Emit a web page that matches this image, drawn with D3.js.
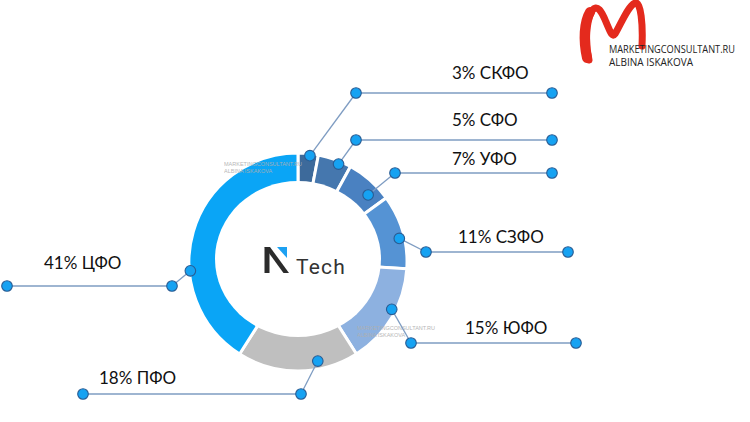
<!DOCTYPE html>
<html><head><meta charset="utf-8">
<script src="https://cdn.jsdelivr.net/npm/d3@7"></script>
<style>html,body{margin:0;padding:0;background:#fff;}svg{display:block;}</style>
</head><body>
<script>
// ---- data ----
const regions = ["СКФО","СФО","УФО","СЗФО","ЮФО","ПФО","ЦФО"];
const shares  = [3, 5, 7, 11, 15, 18, 41];
// ---- styles ----
const colors  = ["#3d6a9b","#4577ae","#4a81c1","#5593d4","#8db1e0","#bfbfbf","#0aa5f6"];
// ---- callout layout (anchor angle on ring in deg, radius, elbow, end x, label pos) ----
const callouts = [
  {ang: 6.4,  r: 107, ex: 356, ey: 93,  endX: 552, lx: 452, ly: 79},
  {ang: 22.5, r: 106, ex: 356, ey: 140, endX: 552, lx: 452, ly: 126},
  {ang: 46.3, r: 97,  ex: 395, ey: 173, endX: 552, lx: 452, ly: 165},
  {ang: 76.9, r: 104, ex: 426, ey: 252, endX: 568, lx: 458, ly: 243},
  {ang: 116.8,r: 105, ex: 411, ey: 343, endX: 576, lx: 465, ly: 334},
  {ang: 168.7,r: 101, ex: 301, ey: 394, endX: 83,  lx: 99,  ly: 384},
  {ang: 265.3,r: 108, ex: 172, ey: 286, endX: 7,   lx: 44,  ly: 269}
];

const W = 750, H = 422, cx = 298, cy = 262, R = 109;
const svg = d3.select("body").append("svg").attr("width", W).attr("height", H);

const pie = d3.pie().sort(null).value(d => d);
const arc = d3.arc().innerRadius(60).outerRadius(R);
const g = svg.append("g").attr("transform", `translate(${cx},${cy})`);
g.selectAll("path.slice").data(pie(shares)).join("path")
  .attr("class","slice")
  .attr("d", arc)
  .attr("fill", (d,i) => colors[i])
  .attr("stroke", "#fff").attr("stroke-width", 3);
// hole
svg.append("ellipse").attr("cx", cx).attr("cy", cy - 3).attr("rx", 83).attr("ry", 78).attr("fill", "#fff");

// watermarks
const wm = [[224,166],[357,330]];
wm.forEach(([x,y]) => {
  const t = svg.append("text").attr("x", x).attr("y", y)
    .attr("font-family","Liberation Sans, sans-serif").attr("font-size", 5.5)
    .attr("fill","#b0b0b0").attr("opacity",0.9);
  t.append("tspan").attr("x", x).text("MARKETINGCONSULTANT.RU");
  t.append("tspan").attr("x", x).attr("dy", 7).text("ALBINA ISKAKOVA");
});

// callouts
const toXY = (ang, r) => {
  const a = ang * Math.PI / 180;
  return [cx + r * Math.sin(a), cy - r * Math.cos(a)];
};
const lineColor = "#7e9cc2";
callouts.forEach((c, i) => {
  const [ax, ay] = toXY(c.ang, c.r);
  svg.append("line").attr("x1", ax).attr("y1", ay).attr("x2", c.ex).attr("y2", c.ey)
    .attr("stroke", lineColor).attr("stroke-width", 1.3);
  svg.append("line").attr("x1", c.ex).attr("y1", c.ey).attr("x2", c.endX).attr("y2", c.ey)
    .attr("stroke", lineColor).attr("stroke-width", 1.3);
  [[ax, ay], [c.ex, c.ey], [c.endX, c.ey]].forEach(([x, y]) => {
    svg.append("circle").attr("cx", x).attr("cy", y).attr("r", 5.3)
      .attr("fill", "#16a2f2").attr("stroke", "#2a5c93").attr("stroke-width", 1.1);
  });
  svg.append("text").attr("x", c.lx).attr("y", c.ly)
    .attr("font-family", "Lato, 'Open Sans', sans-serif").attr("font-size", 17)
    .attr("fill", "#111").text(`${shares[i]}% ${regions[i]}`);
});

// center logo "N Tech"
const lg = svg.append("g");
lg.append("rect").attr("x", 264.5).attr("y", 247).attr("width", 5).attr("height", 26).attr("fill", "#2b2b2b");
lg.append("path").attr("d", "M264.5,247 L270,247 L289,273 L283.5,273 Z").attr("fill", "#2b2b2b");
lg.append("path").attr("d", "M277,247 L287,247 L287,258 Z").attr("fill", "#1da1f2");
lg.append("text").attr("x", 296).attr("y", 274)
  .attr("font-family", "Roboto, sans-serif").attr("font-size", 21).attr("letter-spacing", 1.2)
  .attr("fill", "#333").text("Tech");

// top-right brand logo
svg.append("path")
  .attr("d", "M589,60 C585,42 586,22 592,11 C597,3 602,12 606,22 C610,31 612,38 615,34 C621,24 628,6 635,3 C641,1 643,25 642,46")
  .attr("fill", "none").attr("stroke", "#e42a1d").attr("stroke-width", 7).attr("stroke-linecap", "round").attr("stroke-linejoin","round");
svg.append("path")
  .attr("d", "M587,58 C583,40 584,22 590,12")
  .attr("fill", "none").attr("stroke", "#e42a1d").attr("stroke-width", 10).attr("stroke-linecap", "round");
const bt = svg.append("g").attr("font-family", "'Open Sans', sans-serif").attr("font-size", 10).attr("fill", "#222");
bt.append("text").attr("x", 609).attr("y", 53).attr("textLength", 126).attr("lengthAdjust", "spacingAndGlyphs").text("MARKETINGCONSULTANT.RU");
bt.append("text").attr("x", 609).attr("y", 66).attr("textLength", 84).attr("lengthAdjust", "spacingAndGlyphs").text("ALBINA ISKAKOVA");
</script>
</body></html>
